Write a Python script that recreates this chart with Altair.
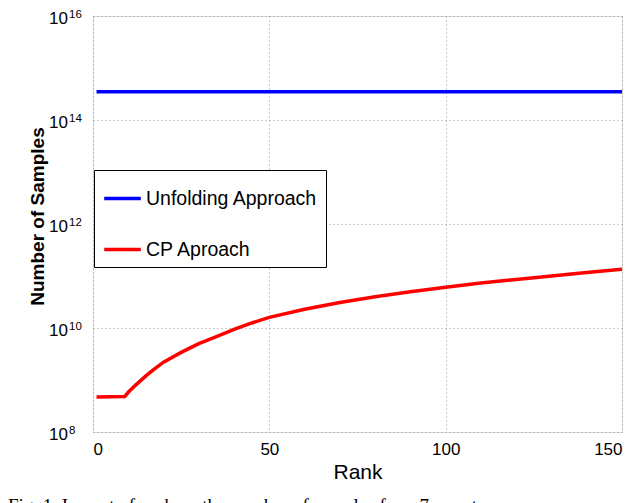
import altair as alt
import pandas as pd

# ---- data ----
unf_rank = [1, 150]
unf_vals = [3.5e14, 3.5e14]

cp_rank = [1, 9, 10, 12, 15, 17, 20, 25, 30, 35, 40, 45, 50, 60, 70, 80, 90,
           100, 110, 120, 130, 140, 150]
cp_vals = [4.7e8, 4.8e8, 5.8e8, 7.9e8, 1.2e9, 1.55e9, 2.2e9, 3.4e9, 5.0e9,
           6.8e9, 9.4e9, 1.25e10, 1.6e10, 2.3e10, 3.1e10, 4.0e10, 5.0e10,
           6.1e10, 7.3e10, 8.6e10, 1.0e11, 1.17e11, 1.35e11]

series_names = ["Unfolding Approach", "CP Aproach"]
series_colors = ["#0000ff", "#ff0000"]

x_ticks = [0, 50, 100, 150]
y_tick_vals = [1e8, 1e10, 1e12, 1e14, 1e16]
y_tick_exps = ["8", "10", "12", "14", "16"]

caption = "Fig. 1.  Impact of rank on the number of samples for a 7-way tensor"

FONT = "Liberation Sans"

df = pd.concat([
    pd.DataFrame({"rank": unf_rank, "samples": unf_vals, "series": series_names[0]}),
    pd.DataFrame({"rank": cp_rank, "samples": cp_vals, "series": series_names[1]}),
])
ydf = pd.DataFrame({"v": y_tick_vals, "base": "10", "exp": y_tick_exps})
capdf = pd.DataFrame({"t": [caption]})

xscale = alt.Scale(domain=[0, 150], nice=False, zero=False)
yscale = alt.Scale(type="log", domain=[1e8, 1e16], nice=False)

lines = alt.Chart(df).mark_line(strokeWidth=3.5, clip=True).encode(
    x=alt.X("rank:Q", scale=xscale,
            axis=alt.Axis(values=x_ticks, title="Rank", ticks=False, domain=False,
                          labelFontSize=17, labelPadding=9, titleFontSize=21,
                          titleFontWeight="normal", titlePadding=4,
                          grid=True, gridDash=[1, 3], gridColor="#999999",
                          labelColor="black", titleColor="black",
                          labelFont=FONT, titleFont=FONT)),
    y=alt.Y("samples:Q", scale=yscale,
            axis=alt.Axis(values=y_tick_vals, labels=False, ticks=False, domain=False,
                          title="Number of Samples", titleFontSize=19,
                          titleFontWeight="bold", titleFont=FONT, titleColor="black",
                          titleX=-56, titleY=200, titleAlign="center",
                          titleBaseline="middle", titleAngle=270,
                          grid=True, gridDash=[1, 3], gridColor="#999999")),
    color=alt.Color("series:N",
                    scale=alt.Scale(domain=series_names, range=series_colors),
                    sort=series_names,
                    legend=alt.Legend(title=None, orient="none", legendX=1, legendY=154,
                                      symbolType="stroke", symbolSize=1340,
                                      symbolStrokeWidth=3.5, labelFontSize=19.5,
                                      labelFont=FONT, labelColor="black",
                                      labelOffset=3, rowPadding=21, padding=8,
                                      strokeColor="black", fillColor="white",
                                      labelLimit=0)),
)

base_lbl = alt.Chart(ydf).mark_text(align="right", baseline="middle", fontSize=17,
                                    font=FONT, dy=3, color="black").encode(
    x=alt.value(-25), y=alt.Y("v:Q", scale=yscale), text="base:N")
exp_lbl = alt.Chart(ydf).mark_text(align="left", baseline="middle", fontSize=11.5,
                                   font=FONT, dy=-1.5, color="black").encode(
    x=alt.value(-24), y=alt.Y("v:Q", scale=yscale), text="exp:N")

cap = alt.Chart(capdf).mark_text(align="left", baseline="alphabetic", fontSize=19,
                                 font="Liberation Serif", color="black").encode(
    x=alt.value(-85), y=alt.value(496), text="t:N")

chart = alt.layer(lines, base_lbl, exp_lbl, cap).properties(
    width=529, height=416,
    autosize=alt.AutoSizeParams(type="none"),
    padding={"left": 85, "top": 8, "right": 10, "bottom": 71},
).configure_view(stroke="black", strokeWidth=1).configure(background="white")

chart.save("out.html", embed_options={"renderer": "svg", "actions": False})
